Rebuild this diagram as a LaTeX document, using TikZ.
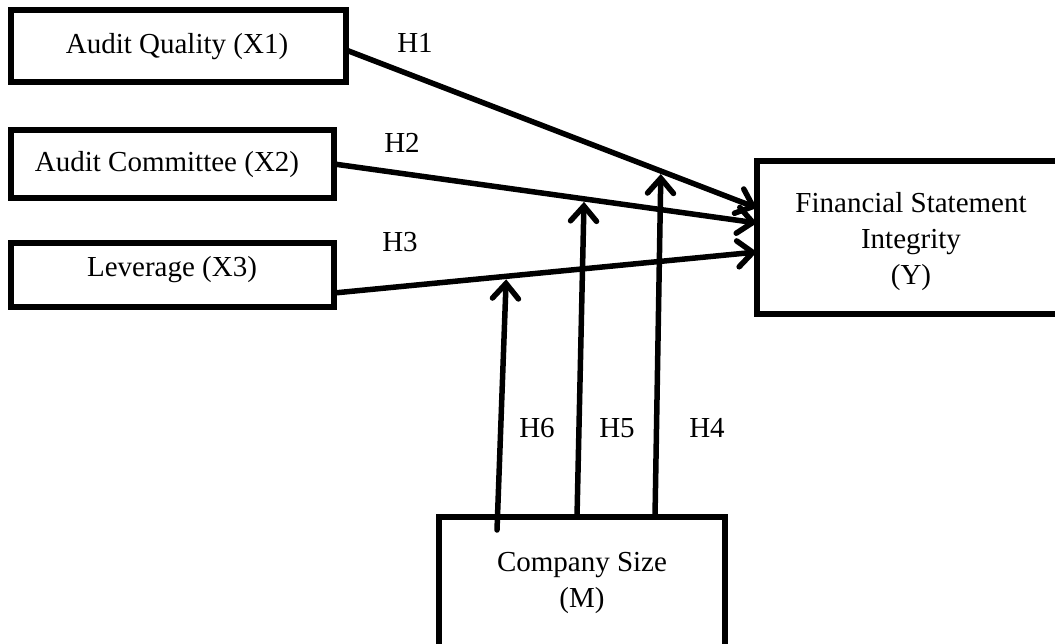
\documentclass[tikz,border=0pt]{standalone}
\usepackage{fontspec}
\setmainfont{Liberation Serif}
\usetikzlibrary{arrows.meta,calc}
\begin{document}
\begin{tikzpicture}[x=1pt,y=-1pt,
  box/.style={draw, line width=6pt, outer sep=0pt, inner sep=0pt},
  lbl/.style={font=\fontsize{29}{36}\selectfont, align=center, inner sep=0pt},
  conn/.style={line width=5.5pt, line cap=round, -{Straight Barb[length=15pt,width=26pt,line cap=round]}},
]
\useasboundingbox (0,0) rectangle (1055,643);
\clip (0,0) rectangle (1055,643);
% boxes
\node[box, minimum width=335pt, minimum height=72pt] (x1) at (178.5,46) {};
\node[box, minimum width=323pt, minimum height=68pt] (x2) at (172.5,164) {};
\node[box, minimum width=323pt, minimum height=64pt] (x3) at (172.5,275) {};
\node[box, minimum width=320pt, minimum height=153pt] (y) at (917,237.5) {};
\node[box, minimum width=286pt, minimum height=170pt] (m) at (582,602) {};
% texts
\node[lbl] (tx1) at (177,47) {Audit Quality (X1)};
\node[lbl] (tx2) at (167,165) {Audit Committee (X2)};
\node[lbl] (tx3) at (172,270) {Leverage (X3)};
\node[lbl] (ty) at (911,242) {Financial Statement\\Integrity\\(Y)};
\node[lbl] (tm) at (582,583) {Company Size\\(M)};
% main paths
\draw[conn] ([yshift=-4pt]x1.east) -- coordinate[pos=0.766] (p4) ([yshift=29.5pt]y.west);
\draw[conn] (x2.east) -- coordinate[pos=0.591] (p5) ([yshift=14.5pt]y.west);
\draw[conn] ([yshift=-18pt]x3.east) -- coordinate[pos=0.407] (p6) ([yshift=-14.5pt]y.west);
% moderator paths
\coordinate (s6) at ([xshift=-85pt,yshift=-13pt]m.north);
\coordinate (s5) at ([xshift=-5pt]m.north);
\coordinate (s4) at ([xshift=73pt]m.north);
\draw[conn] (s6) -- ([yshift=-3pt]p6);
\draw[conn] (s5) -- ([yshift=-3pt]p5);
\draw[conn] (s4) -- ([yshift=-3pt]p4);
% labels
\node[lbl] (h1) at (415,43) {H1};
\node[lbl] (h2) at (402,143) {H2};
\node[lbl] (h3) at (400,242) {H3};
\node[lbl] (h6) at (537,428) {H6};
\node[lbl] (h5) at (617,428) {H5};
\node[lbl] (h4) at (707,428) {H4};
\end{tikzpicture}
\end{document}
